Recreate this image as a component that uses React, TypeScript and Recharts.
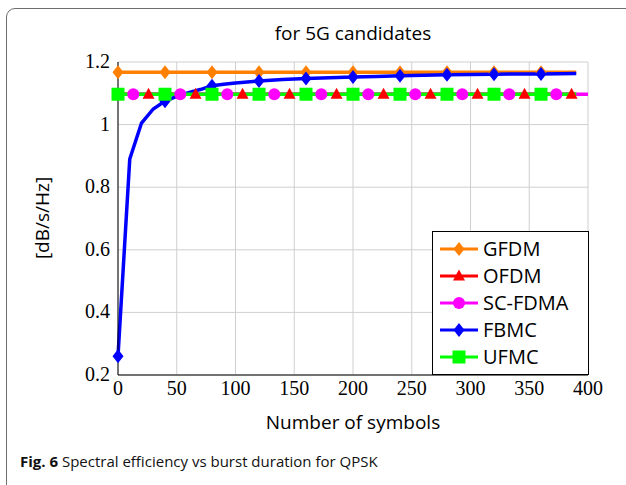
import React from "react";
import { LineChart, Line, XAxis, YAxis, CartesianGrid } from "recharts";

/* Spectral efficiency vs burst duration (QPSK), 5G waveform candidates */

const X_TICKS = [0, 50, 100, 150, 200, 250, 300, 350, 400];
const Y_TICKS = [0.2, 0.4, 0.6, 0.8, 1.0, 1.2];

// x positions of each series (markers are drawn on the points listed in *_MARKS)
const GFDM_X = [0, 40, 80, 120, 160, 200, 240, 280, 320, 360, 390];
const GFDM_Y = [1.167, 1.167, 1.167, 1.167, 1.167, 1.167, 1.167, 1.167, 1.167, 1.167, 1.167];
const GFDM_MARKS = [0, 40, 80, 120, 160, 200, 240, 280, 320, 360];

const OFDM_X = [0, 26, 66, 106, 146, 186, 226, 266, 306, 346, 386, 390];
const OFDM_Y = [1.097, 1.097, 1.097, 1.097, 1.097, 1.097, 1.097, 1.097, 1.097, 1.097, 1.097, 1.097];
const OFDM_MARKS = [26, 66, 106, 146, 186, 226, 266, 306, 346, 386];

const SCFDMA_X = [0, 13, 53, 93, 133, 173, 213, 253, 293, 333, 373, 400];
const SCFDMA_Y = [1.097, 1.097, 1.097, 1.097, 1.097, 1.097, 1.097, 1.097, 1.097, 1.097, 1.097, 1.097];
const SCFDMA_MARKS = [13, 53, 93, 133, 173, 213, 253, 293, 333, 373];

const FBMC_X = [0, 10, 20, 30, 40, 50, 60, 70, 80, 90, 100, 120, 140, 160, 180, 200, 220, 240, 260, 280, 300, 320, 340, 360, 390];
const FBMC_Y = [0.26, 0.89, 1.005, 1.05, 1.075, 1.09, 1.102, 1.112, 1.124, 1.129, 1.133, 1.139, 1.144, 1.147, 1.15, 1.152, 1.154, 1.156, 1.158, 1.159, 1.16, 1.161, 1.162, 1.162, 1.163];
const FBMC_MARKS = [0, 40, 80, 120, 160, 200, 240, 280, 320, 360];

const UFMC_X = [0, 40, 80, 120, 160, 200, 240, 280, 320, 360, 390];
const UFMC_Y = [1.097, 1.097, 1.097, 1.097, 1.097, 1.097, 1.097, 1.097, 1.097, 1.097, 1.097];
const UFMC_MARKS = [0, 40, 80, 120, 160, 200, 240, 280, 320, 360];

type Shape = "diamond" | "triangle" | "circle" | "square";

const SERIES: { name: string; color: string; shape: Shape; xs: number[]; ys: number[]; marks: number[] }[] = [
  { name: "GFDM", color: "#ff7f00", shape: "diamond", xs: GFDM_X, ys: GFDM_Y, marks: GFDM_MARKS },
  { name: "OFDM", color: "#ff0000", shape: "triangle", xs: OFDM_X, ys: OFDM_Y, marks: OFDM_MARKS },
  { name: "SC-FDMA", color: "#ff00ff", shape: "circle", xs: SCFDMA_X, ys: SCFDMA_Y, marks: SCFDMA_MARKS },
  { name: "FBMC", color: "#0000ff", shape: "diamond", xs: FBMC_X, ys: FBMC_Y, marks: FBMC_MARKS },
  { name: "UFMC", color: "#00ff00", shape: "square", xs: UFMC_X, ys: UFMC_Y, marks: UFMC_MARKS },
];

const SERIF = "'Liberation Serif', 'DejaVu Serif', serif";
const SANS = "'Open Sans', 'DejaVu Sans', sans-serif";

function Marker({ shape, cx, cy, color }: { shape: Shape; cx: number; cy: number; color: string }) {
  switch (shape) {
    case "diamond":
      return <polygon points={`${cx},${cy - 7} ${cx + 5.5},${cy} ${cx},${cy + 7} ${cx - 5.5},${cy}`} fill={color} />;
    case "triangle":
      return <polygon points={`${cx},${cy - 6.5} ${cx + 6},${cy + 4.5} ${cx - 6},${cy + 4.5}`} fill={color} />;
    case "circle":
      return <circle cx={cx} cy={cy} r={6} fill={color} />;
    default:
      return <rect x={cx - 6.5} y={cy - 6.5} width={13} height={13} fill={color} />;
  }
}

const fmtY = (v: number) => String(Number(v.toFixed(1)));

function XTick({ x, y, payload }: any) {
  return (
    <text x={x} y={y + 14} textAnchor="middle" fill="#000" fontFamily={SERIF} fontSize={20}>
      {payload.value}
    </text>
  );
}

function YTick({ x, y, payload }: any) {
  return (
    <text x={x + 6} y={y + 6} textAnchor="end" fill="#000" fontFamily={SERIF} fontSize={20}>
      {fmtY(payload.value)}
    </text>
  );
}

function LegendBox() {
  return (
    <div style={{ position: "absolute", left: 432, top: 231, width: 155, height: 142, border: "1px solid #000", background: "#fff" }}>
      {SERIES.map((s, i) => (
        <div key={s.name} style={{ position: "absolute", left: 7, top: 3 + i * 27, height: 27, display: "flex", alignItems: "center" }}>
          <svg width={40} height={20}>
            <line x1={0} y1={10} x2={38} y2={10} stroke={s.color} strokeWidth={3} />
            <Marker shape={s.shape} cx={19} cy={10} color={s.color} />
          </svg>
          <span style={{ fontFamily: SANS, fontSize: 20, color: "#000", marginLeft: 3, lineHeight: "27px" }}>{s.name}</span>
        </div>
      ))}
    </div>
  );
}

export default function App() {
  return (
    <div style={{ position: "absolute", left: 0, top: 0, width: 626, height: 485, overflow: "hidden", background: "#fff" }}>
      <div style={{ position: "absolute", left: 6, top: 8, width: 660, height: 520, border: "1.5px solid #6e6e6e", borderRadius: 9 }} />
      <div style={{ position: "absolute", left: 118, width: 470, top: 20, textAlign: "center", fontFamily: SANS, fontSize: 19, color: "#000" }}>
        for 5G candidates
      </div>
      <div style={{ position: "absolute", left: 118, width: 470, top: 409, textAlign: "center", fontFamily: SANS, fontSize: 19, color: "#000" }}>
        Number of symbols
      </div>
      <div style={{ position: "absolute", left: 42, top: 218, transform: "translate(-50%, -50%) rotate(-90deg)", whiteSpace: "nowrap", fontFamily: SANS, fontSize: 19, color: "#000" }}>
        [dB/s/Hz]
      </div>
      <div style={{ position: "absolute", left: 20, top: 451, whiteSpace: "nowrap", fontFamily: SANS, fontSize: 15, color: "#111" }}>
        <b>Fig. 6</b> Spectral efficiency vs burst duration for QPSK
      </div>
      <div style={{ position: "absolute", left: 0, top: 0 }}>
        <LineChart width={626} height={485} margin={{ top: 62, right: 38, bottom: 80, left: 58 }}>
          <CartesianGrid stroke="#cfcfcf" strokeWidth={1} />
          <XAxis
            type="number"
            dataKey="x"
            domain={[0, 400]}
            ticks={X_TICKS}
            height={30}
            tickLine={false}
            axisLine={{ stroke: "#000", strokeWidth: 1 }}
            tick={<XTick />}
            tickMargin={0}
          />
          <YAxis
            type="number"
            dataKey="y"
            domain={[0.2, 1.2]}
            ticks={Y_TICKS}
            width={60}
            tickLine={false}
            axisLine={{ stroke: "#000", strokeWidth: 1 }}
            tick={<YTick />}
            tickMargin={8}
            allowDataOverflow
          />
          {SERIES.map((s) => (
            <Line
              key={s.name}
              name={s.name}
              data={s.xs.map((x, i) => ({ x, y: s.ys[i], m: s.marks.includes(x) }))}
              dataKey="y"
              stroke={s.color}
              strokeWidth={3.5}
              type="linear"
              isAnimationActive={false}
              activeDot={false}
              dot={(p: any) =>
                p.payload.m ? (
                  <Marker key={`${s.name}-${p.index}`} shape={s.shape} cx={p.cx} cy={p.cy} color={s.color} />
                ) : (
                  <g key={`${s.name}-${p.index}`} />
                )
              }
            />
          ))}
        </LineChart>
      </div>
      <LegendBox />
    </div>
  );
}
